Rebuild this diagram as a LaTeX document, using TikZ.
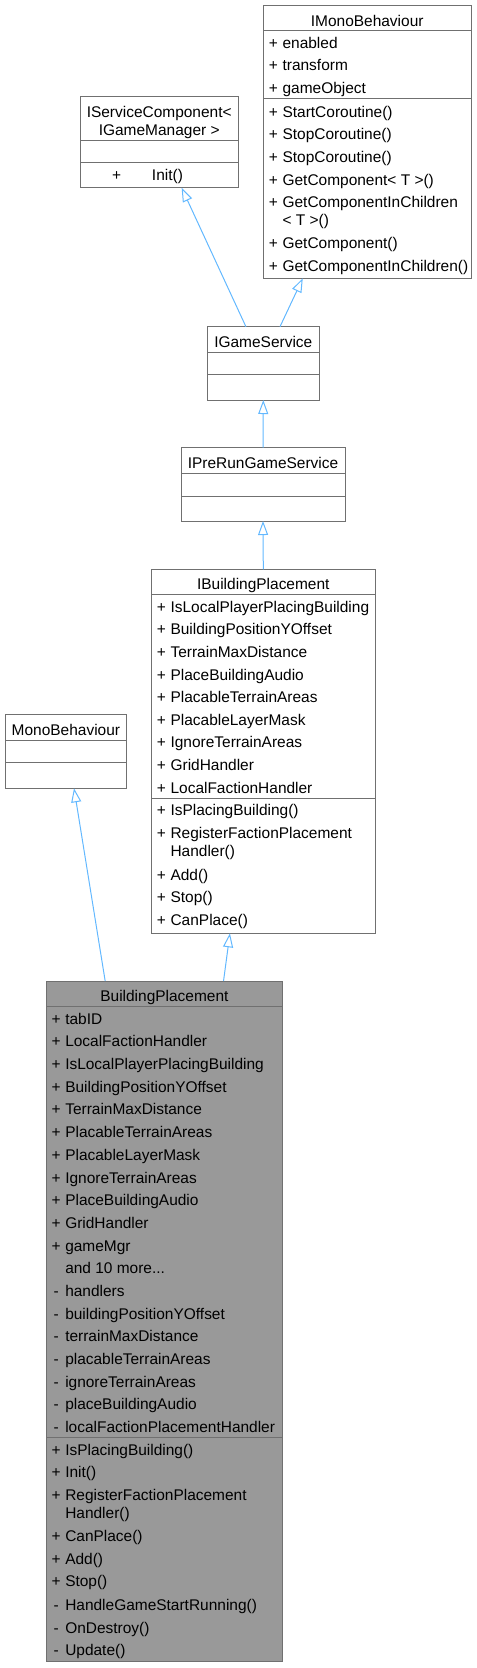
\documentclass[tikz,border=0pt]{standalone}
\usepackage{fontspec}
\setmainfont{Liberation Sans}
\usepackage{tikz}
\usetikzlibrary{arrows.meta, calc}
\definecolor{boxgray}{HTML}{707070}
\definecolor{edgeblue}{HTML}{63B8FF}
\definecolor{hlgray}{HTML}{999999}
\newcommand{\moremembers}{and 10 more...}

\begin{document}
\begin{tikzpicture}[x=0.75pt, y=-0.75pt,
  font=\fontsize{11.6pt}{14pt}\selectfont,
  classbox/.style={draw=boxgray, line width=0.75pt, fill=white, anchor=north west, inner sep=0pt, outer sep=0pt},
  rule/.style={draw=boxgray, line width=0.75pt},
  sign/.style={anchor=base, inner sep=0pt},
  member/.style={anchor=base west, inner sep=0pt},
  title/.style={anchor=base, inner sep=0pt},
  inherit/.style={draw=edgeblue, line width=0.75pt, -{Triangle[open, length=10.5pt, width=7.5pt]}}]

  \useasboundingbox (0,0) rectangle (477,1668);

  % Top Right: IMonoBehaviour
  \node[classbox, minimum width=155.78pt, minimum height=204.98pt] (imono) at (263.3,5) {};
  \draw[rule] (263.3,30.7) -- (471,30.7);
  \draw[rule] (263.3,98.7) -- (471,98.7);
  \node[title] (imono-t) at (367.2,26) {IMonoBehaviour};
  \foreach \y/\sg/\txt [count=\i] in {48/+/enabled, 70.7/+/transform, 93.3/+/gameObject,
      117/+/StartCoroutine(), 139.7/+/StopCoroutine(), 162.3/+/StopCoroutine(),
      185/+/GetComponent< T >(), 207.7/+/GetComponentInChildren, 225.7//< T >(),
      248.3/+/GetComponent(), 271/+/GetComponentInChildren()} {
    \node[sign] (imono-s\i) at (273.3,\y) {\sg};
    \node[member] (imono-m\i) at (282.3,\y) {\txt};
  }

  % Top Left: IServiceComponent
  \node[classbox, minimum width=118.73pt, minimum height=68.78pt] (isvc) at (80,96) {};
  \draw[rule] (80,140) -- (238.3,140);
  \draw[rule] (80,162.7) -- (238.3,162.7);
  \node[title] (isvc-t1) at (159.2,117) {IServiceComponent<};
  \node[title] (isvc-t2) at (159.2,135) {IGameManager >};
  \node[sign] (isvc-s1) at (116.7,180) {+};
  \node[member] (isvc-m1) at (151.7,180) {Init()};

  % Middle: IGameService and IPreRunGameService
  \node[classbox, minimum width=84pt, minimum height=54.98pt] (igs) at (207.3,326.7) {};
  \draw[rule] (207.3,352) -- (319.3,352);
  \draw[rule] (207.3,374.7) -- (319.3,374.7);
  \node[title] (igs-t) at (263.3,347) {IGameService};

  \node[classbox, minimum width=123pt, minimum height=54.98pt] (iprerun) at (181,447.7) {};
  \draw[rule] (181,473.3) -- (345,473.3);
  \draw[rule] (181,496) -- (345,496);
  \node[title] (iprerun-t) at (263,468.5) {IPreRunGameService};

  % IBuildingPlacement
  \node[classbox, minimum width=168pt, minimum height=273pt] (ibp) at (151.3,569.3) {};
  \draw[rule] (151.3,594.3) -- (375.3,594.3);
  \draw[rule] (151.3,798.7) -- (375.3,798.7);
  \node[title] (ibp-t) at (263.3,589) {IBuildingPlacement};
  \foreach \txt [count=\i] in {IsLocalPlayerPlacingBuilding, BuildingPositionYOffset,
      TerrainMaxDistance, PlaceBuildingAudio, PlacableTerrainAreas, PlacableLayerMask,
      IgnoreTerrainAreas, GridHandler, LocalFactionHandler} {
    \node[sign] (ibp-s\i) at (161.3,{612.3+(\i-1)*22.6}) {+};
    \node[member] (ibp-a\i) at (170.3,{612.3+(\i-1)*22.6}) {\txt};
  }
  \foreach \y/\sg/\txt [count=\i] in {815.7/+/IsPlacingBuilding(), 838.3/+/RegisterFactionPlacement,
      856.3//Handler(), 880/+/Add(), 902.3/+/Stop(), 925/+/CanPlace()} {
    \node[sign] (ibp-ms\i) at (161.3,\y) {\sg};
    \node[member] (ibp-m\i) at (170.3,\y) {\txt};
  }

  % Left: MonoBehaviour
  \node[classbox, minimum width=91.28pt, minimum height=55.5pt] (mono) at (5,714.3) {};
  \draw[rule] (5,740) -- (126.7,740);
  \draw[rule] (5,762.3) -- (126.7,762.3);
  \node[title] (mono-t) at (65.9,735) {MonoBehaviour};

  % Bottom: BuildingPlacement (highlighted)
  \node[classbox, fill=hlgray, minimum width=177.53pt, minimum height=510.53pt] (bp) at (46,981) {};
  \draw[rule] (46,1006.7) -- (282.7,1006.7);
  \draw[rule] (46,1437.3) -- (282.7,1437.3);
  \node[title] (bp-t) at (164.4,1001.5) {BuildingPlacement};
  \foreach \sg/\txt [count=\i] in {+/tabID, +/LocalFactionHandler, +/IsLocalPlayerPlacingBuilding,
      +/BuildingPositionYOffset, +/TerrainMaxDistance, +/PlacableTerrainAreas,
      +/PlacableLayerMask, +/IgnoreTerrainAreas, +/PlaceBuildingAudio, +/GridHandler,
      +/gameMgr, /\moremembers, -/handlers, -/buildingPositionYOffset,
      -/terrainMaxDistance, -/placableTerrainAreas, -/ignoreTerrainAreas,
      -/placeBuildingAudio, -/localFactionPlacementHandler} {
    \node[sign] (bp-s\i) at (56.2,{1024.3+(\i-1)*22.67}) {\sg};
    \node[member] (bp-a\i) at (65,{1024.3+(\i-1)*22.67}) {\txt};
  }
  \foreach \y/\sg/\txt [count=\i] in {1455/+/IsPlacingBuilding(), 1477.3/+/Init(),
      1500/+/RegisterFactionPlacement, 1518.3//Handler(), 1541.7/+/CanPlace(),
      1564.3/+/Add(), 1586.7/+/Stop(), 1610/-/HandleGameStartRunning(),
      1633.3/-/OnDestroy(), 1655.7/-/Update()} {
    \node[sign] (bp-ms\i) at (56.2,\y) {\sg};
    \node[member] (bp-m\i) at (65,\y) {\txt};
  }

  % Inheritance edges
  \draw[inherit] ($(bp.north west)!0.25!(bp.north east)$) -- ($(mono.south west)!0.567!(mono.south east)$);
  \draw[inherit] ($(bp.north west)!0.75!(bp.north east)$) -- ($(ibp.south west)!0.351!(ibp.south east)$);
  \draw[inherit] (ibp.north) -- (iprerun.south);
  \draw[inherit] (iprerun.north) -- (igs.south);
  \draw[inherit] ($(igs.north west)!0.345!(igs.north east)$) -- ($(isvc.south west)!0.642!(isvc.south east)$);
  \draw[inherit] ($(igs.north west)!0.649!(igs.north east)$) -- ($(imono.south west)!0.19!(imono.south east)$);
\end{tikzpicture}
\end{document}
